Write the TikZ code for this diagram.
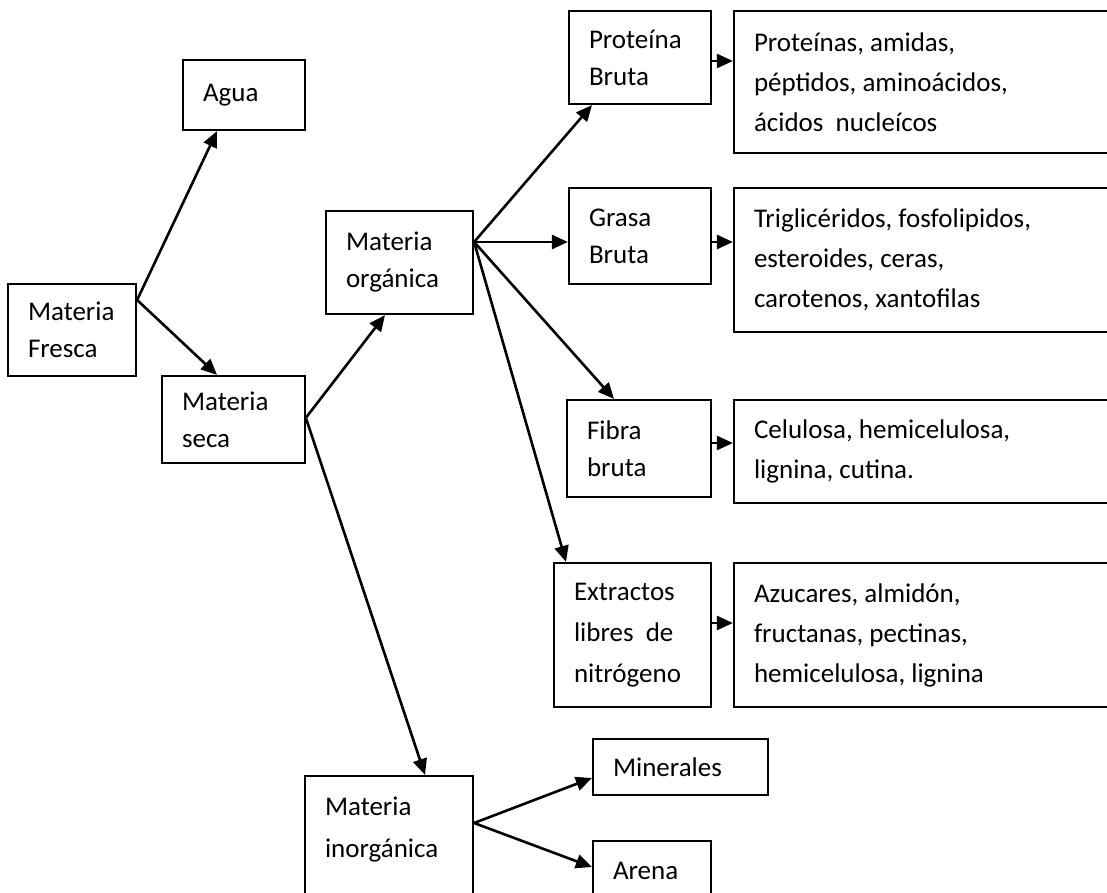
\documentclass[tikz,border=0pt]{standalone}
\usepackage{fontspec}
\setmainfont{Carlito}
\usetikzlibrary{shapes,arrows.meta}
\tikzstyle{box} = [draw=black, rectangle, line width=1.1pt, align=flush left, inner xsep=10pt, inner ysep=0pt, font=\fontsize{13.5}{18.5}\selectfont]
\tikzstyle{list} = [box, text width=173pt, font=\fontsize{13.5}{20}\selectfont]
\tikzstyle{arrow} = [line width=1.3pt,-{Triangle[length=8pt,width=7pt]}]

\begin{document}
\begin{tikzpicture}[x=0.5pt,y=-0.5pt]
    \useasboundingbox (0,0) rectangle (1107,893);
    \clip (0,0) rectangle (1107,893);
    % left part
    \node[box, text width=44pt, minimum height=46pt] (fresca) at (72,330) {Materia\\Fresca};
    \node[box, text width=41pt, minimum height=35pt] (agua) at (244,95) {Agua};
    \node[box, text width=51.5pt, minimum height=43.5pt] (seca) at (233.5,419.5) {Materia\\seca};
    \node[box, text width=53.5pt, minimum height=51.5pt] (organica) at (399.5,262.5) {Materia\\orgánica};
    \node[box, text width=64pt, minimum height=72pt, text depth=42pt,
        font=\fontsize{13.5}{21}\selectfont] (inorganica) at (389,848) {Materia\\inorgánica};
    % middle column
    \node[box, text width=51pt, minimum height=46.5pt] (proteina) at (640,57.5) {Proteína\\Bruta};
    \node[box, text width=51pt, minimum height=48pt] (grasa) at (640,236) {Grasa\\Bruta};
    \node[box, text width=52pt, minimum height=48.5pt] (fibra) at (639,448.5) {Fibra\\bruta};
    \node[box, text width=58.5pt, minimum height=72pt,
        font=\fontsize{13.5}{20.5}\selectfont] (extractos) at (632.5,635) {Extractos\\libres\ \ de\\nitrógeno};
    \node[box, text width=67.5pt, minimum height=28pt] (minerales) at (680.5,767) {Minerales};
    \node[box, text width=39pt, minimum height=30pt] (arena) at (652,871) {Arena};
    % right column
    \node[list, minimum height=71pt] (plist) at (927,82) {Proteínas, amidas,\\péptidos, aminoácidos,\\ácidos\ \ nucleícos};
    \node[list, minimum height=72pt] (tlist) at (927,260) {Triglicéridos, fosfolipidos,\\esteroides, ceras,\\carotenos, xantofilas};
    \node[list, minimum height=51.5pt] (clist) at (927,451.5) {Celulosa, hemicelulosa,\\lignina, cutina.};
    \node[list, minimum height=72pt] (alist) at (927,635) {Azucares, almidón,\\fructanas, pectinas,\\hemicelulosa, lignina};

    % connectors
    \draw[arrow] ([yshift=15pt]fresca.east) -- ([xshift=-13.5pt]agua.south);
    \draw[arrow] ([yshift=15pt]fresca.east) -- ([xshift=-8.25pt]seca.north);
    \draw[arrow] ([yshift=1pt]seca.east) -- ([xshift=-7.25pt]organica.south);
    \draw[arrow] ([yshift=0.5pt]seca.east) -- ([xshift=18pt]inorganica.north);
    \draw[arrow] ([yshift=10.25pt]organica.east) -- ([xshift=-24pt]proteina.south);
    \draw[arrow] ([yshift=10.25pt]organica.east) -- ([yshift=-3pt]grasa.west);
    \draw[arrow] ([yshift=10.25pt]organica.east) -- ([xshift=-12.5pt]fibra.north);
    \draw[arrow] ([yshift=10.25pt]organica.east) -- ([xshift=-33.25pt]extractos.north);
    \draw[arrow] ([yshift=-1.75pt]proteina.east) -- ([yshift=10.5pt]plist.west);
    \draw[arrow] ([yshift=-3pt]grasa.east) -- ([yshift=9pt]tlist.west);
    \draw[arrow] ([yshift=2.75pt]fibra.east) -- ([yshift=4.25pt]clist.west);
    \draw[arrow] ([yshift=6pt]extractos.east) -- ([yshift=6pt]alist.west);
    \draw[arrow] ([yshift=12.5pt]inorganica.east) -- ([yshift=-5.5pt]minerales.west);
    \draw[arrow] ([yshift=12.5pt]inorganica.east) -- ([yshift=2pt]arena.west);
\end{tikzpicture}
\end{document}
